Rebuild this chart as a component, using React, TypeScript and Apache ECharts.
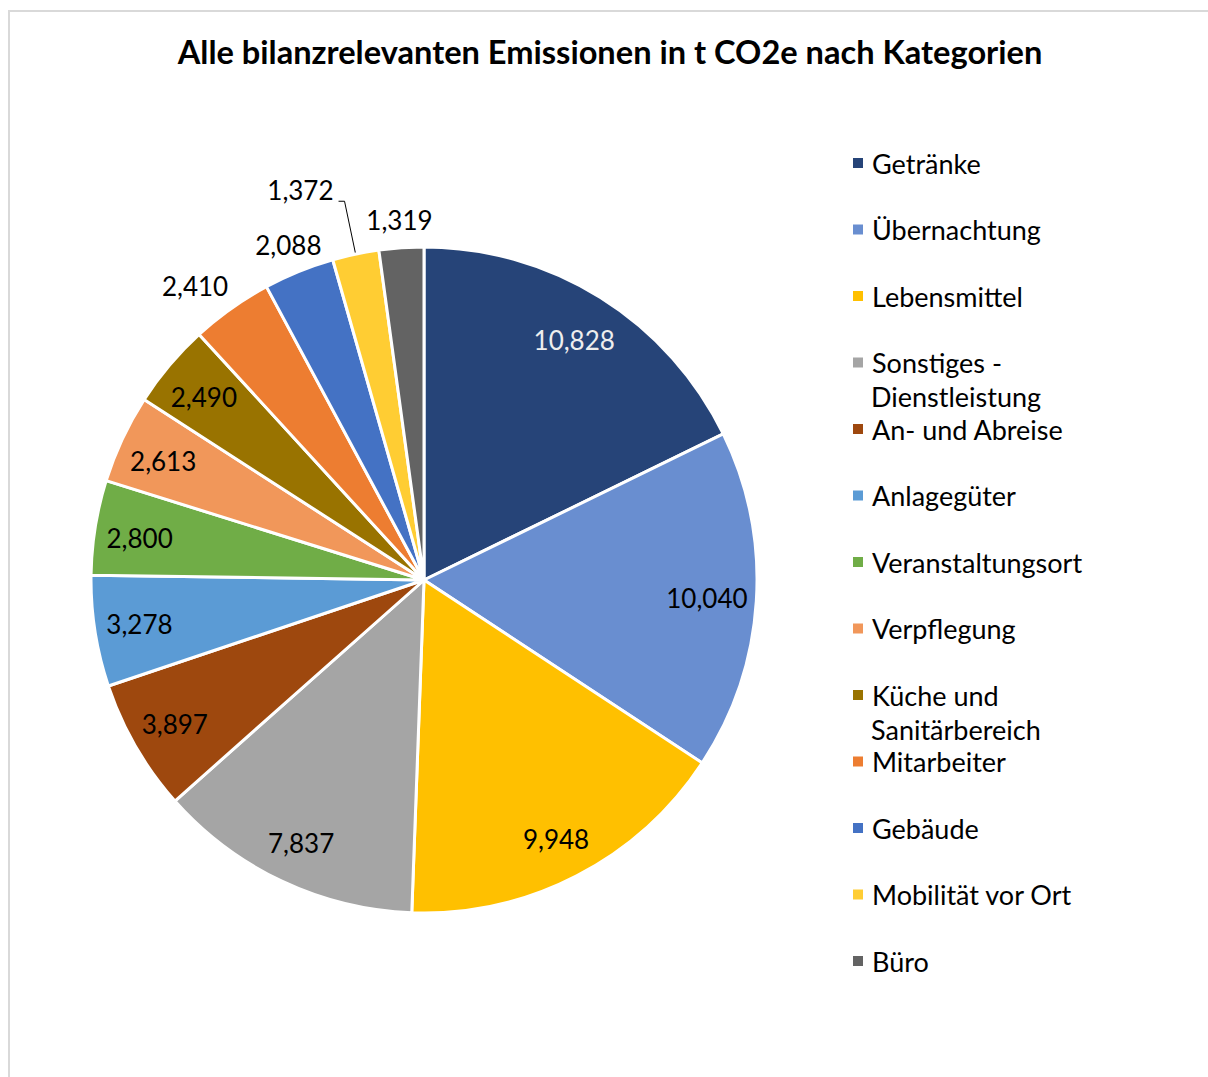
import React, { useEffect, useRef } from "react";
import * as echarts from "echarts";

const categories = [
  "Getränke",
  "Übernachtung",
  "Lebensmittel",
  "Sonstiges - Dienstleistung",
  "An- und Abreise",
  "Anlagegüter",
  "Veranstaltungsort",
  "Verpflegung",
  "Küche und Sanitärbereich",
  "Mitarbeiter",
  "Gebäude",
  "Mobilität vor Ort",
  "Büro",
];
const values = [10828, 10040, 9948, 7837, 3897, 3278, 2800, 2613, 2490, 2410, 2088, 1372, 1319];
const colors = [
  "#264478", "#698ED0", "#FFC000", "#A5A5A5", "#9E480E", "#5B9BD5", "#70AD47",
  "#F1975A", "#997300", "#ED7D31", "#4472C4", "#FFCD33", "#636363",
];
// legend labels that wrap in the reference: first line shown by legend, second line below
const legendFirstLine: Record<string, string> = {
  "Sonstiges - Dienstleistung": "Sonstiges -",
  "Küche und Sanitärbereich": "Küche und",
};
const legendSecondLines = ["Dienstleistung", "Sanitärbereich"];
const legendSecondLineIndex = [3, 8];

// label placement groups (index into categories)
const insideNearIdx = [0, 1];
const insideLabelIdx = [2, 3, 4, 5, 6, 7, 8];
const outsideLabelIdx = [9, 10, 12];
const leaderLabelIdx = [11];

const title = "Alle bilanzrelevanten Emissionen in t CO2e nach Kategorien";

const FONT = "Lato";

const fmt = (v: number) => v.toLocaleString("en-US");

export default function App() {
  const ref = useRef<HTMLDivElement>(null);
  useEffect(() => {
    if (!ref.current) return;
    const chart = echarts.init(ref.current, null, { renderer: "svg" });
    const center = [424, 580];
    const R = 333;

    const labelData = (idxs: number[], extra: (i: number) => any = () => ({})) =>
      categories.map((name, i) => ({
        name,
        value: values[i],
        itemStyle: { color: "rgba(0,0,0,0)", borderWidth: 0 },
        label: { show: idxs.includes(i), ...extra(i) },
        labelLine: { show: idxs.includes(i) },
      }));

    const labelStyle = {
      fontFamily: FONT,
      fontSize: 26,
      color: "#000000",
      formatter: (p: any) => fmt(p.value),
    };

    const labelSeries = (name: string, radius: number[], idxs: number[], extra?: (i: number) => any, more: any = {}) => ({
      type: "pie",
      name,
      center,
      radius,
      startAngle: 90,
      clockwise: true,
      silent: true,
      avoidLabelOverlap: false,
      legendHoverLink: false,
      label: { position: "inside", ...labelStyle },
      data: labelData(idxs, extra),
      ...more,
    });

    const legendTop = 146;
    const legendStep = 66.5;
    const legendLH = 34;

    chart.setOption({
      animation: false,
      backgroundColor: "#ffffff",
      color: colors,
      title: {
        text: title,
        left: 610,
        top: 32,
        padding: 0,
        textAlign: "center",
        textStyle: {
          fontFamily: FONT,
          fontWeight: "bold",
          fontSize: 32.6,
          lineHeight: 38,
          color: "#000000",
        },
      },
      legend: {
        orient: "vertical",
        left: 851,
        top: legendTop,
        padding: 0,
        itemWidth: 12,
        itemHeight: 12,
        itemGap: legendStep - legendLH,
        icon: "rect",
        selectedMode: false,
        data: categories,
        formatter: (name: string) => legendFirstLine[name] ?? name,
        textStyle: {
          fontFamily: FONT,
          fontSize: 27,
          lineHeight: legendLH,
          color: "#000000",
          padding: [0, 0, 0, 3],
        },
      },
      graphic: [
        {
          type: "rect",
          silent: true,
          shape: { x: 9, y: 11, width: 1400, height: 1400 },
          style: { fill: "none", stroke: "#d9d9d9", lineWidth: 2 },
        },
        ...legendSecondLines.map((t, k) => ({
          type: "text",
          silent: true,
          x: 871,
          y: legendTop + legendLH / 2 + legendSecondLineIndex[k] * legendStep + legendLH,
          style: {
            text: t,
            fontFamily: FONT,
            fontSize: 27,
            fill: "#000000",
            verticalAlign: "middle",
            align: "left",
          },
        })),
      ],
      series: [
        {
          type: "pie",
          name: "main",
          center,
          radius: [0, R],
          startAngle: 90,
          clockwise: true,
          silent: true,
          avoidLabelOverlap: false,
          itemStyle: { borderColor: "#ffffff", borderWidth: 3 },
          label: { show: false },
          labelLine: { show: false },
          data: categories.map((name, i) => ({ name, value: values[i] })),
        },
        labelSeries("insideNear", [228, R], insideNearIdx, (i) => (i === 0 ? { color: "#eeeeee" } : {})),
        labelSeries("inside", [237, R], insideLabelIdx, undefined, {
          labelLayout: (p: any) => (p.dataIndex === 4 || p.dataIndex === 5 ? {} : { dy: 3 }),
        }),
        labelSeries("outside", [R, 383], outsideLabelIdx, undefined, {
          labelLayout: (p: any) => (p.dataIndex === 9 ? { dx: -20, dy: 0 } : {}),
        }),
        labelSeries("leader", [0, R], leaderLabelIdx, undefined, {
          label: {
            position: "outside",
            ...labelStyle,
            distanceToLabelLine: 7,
          },
          labelLine: {
            length: 54,
            length2: 6,
            lineStyle: { color: "#000000", width: 1 },
          },
          labelLayout: () => ({ dx: 2, dy: -11 }),
        }),
      ],
    });
    return () => chart.dispose();
  }, []);
  return (
    <div
      ref={ref}
      style={{ position: "fixed", left: 0, top: 0, width: 1208, height: 1077 }}
    />
  );
}
